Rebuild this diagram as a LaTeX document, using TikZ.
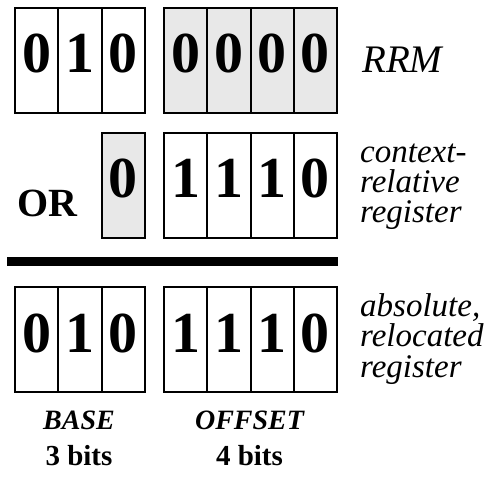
\documentclass[tikz,border=0pt]{standalone}
\usepackage{fontspec}
\setmainfont{Liberation Serif}
\definecolor{shade}{HTML}{E8E8E8}
\tikzset{
  bitcell/.style={draw=black, line width=2pt, anchor=north west, inner sep=0pt,
    minimum width=43.33pt, minimum height=105pt, text height=40pt, text depth=15pt,
    font=\fontsize{58}{58}\selectfont\bfseries},
  shaded/.style={bitcell, fill=shade},
  plain/.style={bitcell, fill=white},
  % multi-line labels: the base anchor sits on the last line's baseline
  sidelabel/.style={anchor=base west, inner sep=0pt, align=left,
    font=\fontsize{33}{30.5}\selectfont\itshape},
  fieldname/.style={anchor=base, inner sep=0pt, font=\fontsize{28}{28}\selectfont\bfseries\itshape},
  fieldsize/.style={anchor=base, inner sep=0pt, font=\fontsize{29}{29}\selectfont\bfseries},
}
\begin{document}
\begin{tikzpicture}[x=1pt, y=-1pt]
\useasboundingbox (0,0) rectangle (490,481);

% row 1: RRM
\node[plain]  (r1a) at (14,7)      {0};
\node[plain]  (r1b) at (57.33,7)   {1};
\node[plain]  (r1c) at (100.67,7)  {0};
\node[shaded] (r1d) at (163,7)     {0};
\node[shaded] (r1e) at (206.25,7)  {0};
\node[shaded] (r1f) at (249.5,7)   {0};
\node[shaded] (r1g) at (292.75,7)  {0};
\node[anchor=base west, inner sep=0pt, font=\fontsize{39}{39}\selectfont\itshape] (rrm) at (362,73) {RRM};

% row 2: context-relative register
\node[anchor=base west, inner sep=0pt, font=\fontsize{40}{40}\selectfont\bfseries] (or) at (17,217) {OR};
\node[shaded] (r2c) at (100.67,132) {0};
\node[plain]  (r2d) at (163,132)    {1};
\node[plain]  (r2e) at (206.25,132) {1};
\node[plain]  (r2f) at (249.5,132)  {1};
\node[plain]  (r2g) at (292.75,132) {0};
\node[sidelabel] (ctx) at (360,223) {context-\\relative\\register};

% result bar
\coordinate (barl) at (7,261.5);
\coordinate (barr) at (338,261.5);
\draw[line width=9pt] (barl) -- (barr);

% row 3: absolute, relocated register
\node[plain] (r3a) at (14,286)     {0};
\node[plain] (r3b) at (57.33,286)  {1};
\node[plain] (r3c) at (100.67,286) {0};
\node[plain] (r3d) at (163,286)    {1};
\node[plain] (r3e) at (206.25,286) {1};
\node[plain] (r3f) at (249.5,286)  {1};
\node[plain] (r3g) at (292.75,286) {0};
\node[sidelabel] (abs) at (360,377) {absolute,\\relocated\\register};

% field captions
\node[fieldname] (base)   at (79,429)    {BASE};
\node[fieldsize] (base3)  at (79,465)    {3 bits};
\node[fieldname] (offset) at (249.5,429) {OFFSET};
\node[fieldsize] (off4)   at (249.5,465) {4 bits};
\end{tikzpicture}
\end{document}
